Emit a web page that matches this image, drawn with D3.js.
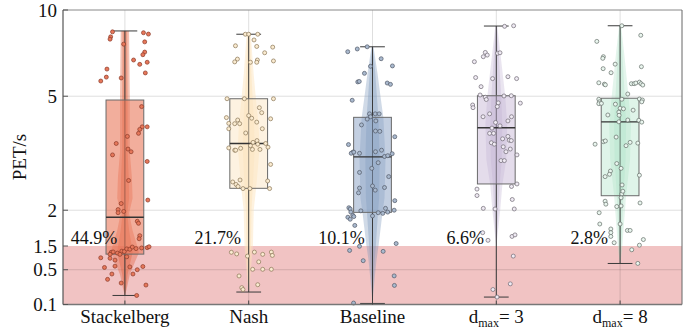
<!DOCTYPE html>
<html><head><meta charset="utf-8">
<script src="https://cdn.jsdelivr.net/npm/d3@7"></script>
<style>
body{margin:0;background:#fff}
svg{display:block}
</style>
</head><body><svg id="c" width="697" height="333"></svg>
<script>
// ---------------- data ----------------
const categories = ["Stackelberg","Nash","Baseline","dmax3","dmax8"];
const categoryLabels = [["Stackelberg"],["Nash"],["Baseline"],["d","max","= 3"],["d","max","= 8"]];
const yTicks = [0.1, 0.5, 1.5, 2, 5, 10];
const threshold = 1.5;
const percentLabels = ["44.9%","21.7%","10.1%","6.6%","2.8%"];

const whiskerHigh = [8.45, 8.23, 7.44, 8.79, 8.81];
const q3          = [4.85, 4.90, 4.22, 5.02, 4.92];
const medians     = [1.89, 3.42, 3.07, 3.88, 4.07];
const q1          = [1.03, 2.385, 1.966, 2.47, 2.247];
const whiskerLow  = [0.152, 0.178, 0.105, 0.141, 0.668];

const stackelbergPET = [8.39,8.06,7.91,8.33,8.24,7.74,7.60,7.13,6.98,6.69,6.57,6.46,6.22,5.83,5.65,5.79,6.03,4.60,3.91,3.91,3.83,3.71,3.62,3.42,3.27,3.20,3.12,2.96,2.54,2.17,2.11,2.01,1.96,1.98,1.83,1.80,1.63,1.59,
  1.12,1.14,1.02,1.08,1.18,1.02,1.16,1.31,1.29,1.43,1.33,1.37,1.39,1.45,0.87,0.85,0.78,0.91,0.555,0.59,0.57,0.50,0.58,0.41,0.41,0.32,0.27,0.246,0.152];
const stackelbergJitter = [-0.10,-0.115,-0.12,0.15,0.19,0.16,-0.01,0.16,0.145,0.07,0.18,0.12,-0.145,-0.15,-0.195,-0.03,0.165,0.135,0.18,0.14,0.12,0.11,0.02,-0.07,0.025,0.05,-0.10,0.18,0.03,0.185,-0.03,-0.055,-0.055,-0.01,0.10,0.11,0.12,0.115,
  -0.11,-0.095,-0.12,-0.06,-0.025,-0.04,-0.005,0.015,0.04,0.06,0.09,0.135,0.18,0.195,-0.195,-0.12,-0.08,0.015,-0.165,-0.08,0.04,0.10,0.145,-0.105,0.065,-0.14,-0.03,0.17,0.095];

const nashPET = [8.23,8.23,8.23,7.86,7.50,7.46,7.42,7.09,6.74,6.59,6.69,6.57,6.57,6.64,4.90,4.90,4.90,4.56,4.38,4.21,4.28,4.19,4.17,4.13,4.02,4.01,4.01,4.06,3.85,3.85,3.72,3.50,3.45,3.40,3.36,3.42,3.32,3.30,3.24,3.24,3.29,3.26,3.26,2.89,2.51,2.46,2.55,2.42,2.38,2.38,2.53,2.38,
  1.12,1.04,0.94,1.13,1.02,1.13,0.97,0.72,0.51,0.51,0.51,0.375,0.25,0.218,0.20];
const nashJitter = [-0.027,0,0.073,0.043,-0.107,0.065,0.194,0.129,-0.091,-0.113,0.07,0.065,0.014,0.2,-0.175,-0.035,0.2,0.086,0.105,-0.18,0,0.024,0.177,-0.089,-0.161,-0.113,-0.073,0.065,-0.161,0.11,-0.024,0.067,0.035,0.073,0.014,0.137,0.156,-0.161,-0.113,-0.105,-0.065,0.03,0.091,0.177,-0.129,-0.102,-0.07,-0.086,-0.046,0.01,0.153,0.169,
  -0.14,-0.097,-0.01,0.046,0.113,0.183,0.191,0.081,0.032,0.113,0.183,-0.078,0.073,-0.056,-0.046];

const baselinePET = [7.44,7.15,7.31,6.76,6.36,6.38,6.01,5.61,5.63,5.56,5.50,4.84,4.34,4.34,4.34,4.24,4.16,4.10,3.97,3.78,3.77,3.61,3.39,3.19,3.16,3.19,3.16,3.20,3.24,3.08,3.10,3.15,2.93,2.71,2.80,2.62,2.39,2.30,2.43,2.35,2.40,2.16,2.04,2.02,1.97,1.99,1.96,1.95,1.97,2.03,2.00,1.89,1.86,1.92,1.90,1.91,1.77,1.53,1.48,1.22,1.17,0.76,0.376,0.242,0.107];
const baselineJitter = [-0.043,-0.2,-0.123,0.07,-0.016,0.161,-0.065,-0.119,-0.107,0.119,0.145,-0.164,-0.024,0.022,0.054,-0.016,-0.043,0.027,-0.089,0.024,0.059,0.18,-0.194,-0.159,-0.172,-0.151,-0.105,0.024,0.073,0.097,0.123,0.159,0.046,-0.105,-0.006,0.131,-0.105,-0.113,0,0.022,0.097,0.18,-0.191,-0.18,-0.175,-0.094,0.046,0.083,0.123,0.105,0.175,-0.199,-0.18,-0.159,-0.151,0,-0.143,0.191,-0.105,-0.185,0.086,-0.075,0.175,0.177,-0.153];

const dmax3PET = [8.77,8.81,7.11,6.87,6.96,6.60,7.06,7.09,5.81,5.76,5.85,5.76,5.40,5.05,4.96,4.87,5.01,5.02,4.66,4.56,4.74,4.60,4.73,4.34,4.24,4.24,4.10,4.05,3.94,3.87,3.71,3.71,3.55,3.62,3.51,3.50,3.44,3.40,3.33,3.27,3.20,3.12,2.98,2.98,2.47,2.42,2.37,2.25,2.18,2.03,2.02,2.02,1.67,1.57,1.62,1.64,0.94,0.26,0.20,0.141];
const dmax3Jitter = [0.067,0.14,-0.089,-0.105,-0.073,-0.177,0.01,0.03,-0.167,-0.03,0.094,0.164,-0.123,-0.131,-0.089,-0.081,0.062,0.121,-0.191,-0.188,0.016,0.008,0.194,-0.054,-0.107,0.123,0.094,-0.006,0.03,-0.035,-0.054,-0.022,0.051,0.094,0.105,0.121,-0.04,-0.016,0.056,0.113,0.078,0.167,0.038,0.065,0.167,0.123,-0.156,-0.156,0.129,-0.105,-0.01,0.145,-0.11,-0.067,0.127,0.151,0.137,0.113,-0.027,0.006];

const dmax8PET = [8.81,8.16,7.77,6.87,6.78,6.34,6.24,6.47,6.04,5.57,5.51,5.48,5.53,5.53,5.56,5.60,5.53,5.47,5.09,4.88,4.78,4.71,4.72,4.88,4.89,4.85,4.78,4.69,4.54,4.52,4.47,4.30,4.40,4.29,4.13,4.07,4.12,4.06,3.40,3.47,3.49,3.60,3.36,3.45,3.43,2.91,2.80,2.74,2.67,2.62,2.65,2.45,2.28,2.33,2.21,2.15,2.10,2.06,2.07,2.12,1.96,1.79,1.72,1.67,1.62,1.79,1.70,1.70,1.54,1.58,1.51,1.26,0.67];
const dmax8Jitter = [0.014,0.167,-0.188,-0.135,-0.14,0.172,-0.137,-0.04,-0.073,-0.172,-0.127,-0.119,0.091,0.113,0.127,0.156,0.169,0.183,0.062,-0.172,-0.167,-0.172,-0.151,0.014,0.156,0.18,0.175,-0.038,0,0.027,0.105,-0.099,-0.01,-0.008,0.062,-0.01,0.151,0.175,-0.202,-0.135,-0.119,-0.032,0.048,0.081,0.143,-0.027,0.008,-0.078,-0.086,-0.121,0.156,0.016,0.014,0.022,0.008,-0.121,-0.115,-0.027,0.008,0.161,-0.169,-0.164,-0.075,-0.075,-0.075,0,0.059,0.081,-0.048,0.188,0.156,0.094,0.143];

// violin density profiles (value, relative density)
const stackelbergViolinV = [8.45,5,3.2,2.6,2.2,1.95,1.7,1.45,1.1,0.7,0.4,0.2,0.152];
const stackelbergViolinD = [0.3,0.35,0.35,0.5,0.55,0.3,0.55,0.9,1,0.7,0.35,0.12,0];
const nashViolinV = [8.23,6,5,4,3.3,2.5,2,1.5,0.8,0.3,0.178];
const nashViolinD = [0.15,0.35,0.5,0.7,0.78,0.57,0.36,0.3,0.22,0.1,0];
const baselineViolinV = [7.44,6,5,4.2,3,2.2,1.95,1.5,0.8,0.3,0.105];
const baselineViolinD = [0.07,0.36,0.57,0.78,0.93,0.86,0.71,0.43,0.29,0.14,0];
const dmax3ViolinV = [8.79,7,5,4,3,2.45,2,1.55,1.5];
const dmax3ViolinD = [0.07,0.3,0.64,0.78,0.71,0.43,0.28,0.04,0];
const dmax8ViolinV = [8.81,7,5,4,3,2.25,1.8,1.2,0.668];
const dmax8ViolinD = [0.07,0.3,0.6,0.78,0.71,0.43,0.28,0.14,0];

const seriesValues = [stackelbergPET, nashPET, baselinePET, dmax3PET, dmax8PET];
const seriesJitter = [stackelbergJitter, nashJitter, baselineJitter, dmax3Jitter, dmax8Jitter];
const violinV = [stackelbergViolinV, nashViolinV, baselineViolinV, dmax3ViolinV, dmax8ViolinV];
const violinD = [stackelbergViolinD, nashViolinD, baselineViolinD, dmax3ViolinD, dmax8ViolinD];

// ---------------- styles ----------------
const FONT = '"Liberation Serif"';
const violinColor = ["rgb(228,100,65)","rgb(252,226,185)","rgb(120,148,186)","rgb(185,168,205)","rgb(165,222,192)"];
const violinAlpha = [0.4,0.45,0.35,0.3,0.3];
const boxColor = ["rgb(234,120,90)","rgb(252,230,195)","rgb(135,160,195)","rgb(195,178,210)","rgb(175,228,200)"];
const boxAlpha = [0.6,0.5,0.5,0.45,0.4];
const ptFill = ["#E6775A","#FAEBD0","#A9B9CE","#EFEAF3","#EAF6EF"];
const ptStroke = ["#8a3a28","#8a7656","#505866","#6e6873","#646f69"];

// ---------------- layout ----------------
const L = 63, R = 682, T = 10, B = 304.5, yThr = 246;
const svg = d3.select("#c");
const x = d3.scaleBand().domain(categories).range([L, R]).padding(0);
const y = d3.scaleLog().domain([0.1, threshold, 10]).range([B, yThr, T]);
const bw = x.bandwidth();
const cx = i => x(categories[i]) + bw / 2;
const widthScale = d3.scaleLinear().domain([0, 1]).range([0, bw * 0.113]);

// threshold region
svg.append("rect").attr("x", L).attr("y", y(threshold)).attr("width", R - L)
  .attr("height", y(0.1) - y(threshold)).attr("fill", "#F1C3C3");

// grid
const grid = svg.append("g").attr("stroke", "#000").attr("stroke-opacity", 0.13).attr("stroke-width", 1);
[0.5, 2, 5].forEach(v => grid.append("line").attr("x1", L).attr("x2", R).attr("y1", y(v)).attr("y2", y(v)));
categories.forEach((c, i) => grid.append("line").attr("x1", cx(i)).attr("x2", cx(i)).attr("y1", T).attr("y2", B));

// violins
categories.forEach((c, i) => {
  const pts = violinV[i].map((v, k) => ({v, d: violinD[i][k]}));
  [1, 0.55].forEach(f => {
    const area = d3.area()
      .y(p => y(p.v))
      .x0(p => cx(i) - widthScale(p.d) * f)
      .x1(p => cx(i) + widthScale(p.d) * f)
      .curve(d3.curveLinear);
    svg.append("path").attr("d", area(pts)).attr("fill", violinColor[i]).attr("fill-opacity", violinAlpha[i]);
  });
});

// whiskers
const boxW = bw * 0.305, capW = bw * 0.2;
categories.forEach((c, i) => {
  const g = svg.append("g").attr("stroke", "#3a3a3a").attr("stroke-width", 1);
  g.append("line").attr("x1", cx(i)).attr("x2", cx(i)).attr("y1", y(whiskerHigh[i])).attr("y2", y(whiskerLow[i]));
  [whiskerHigh[i], whiskerLow[i]].forEach(v =>
    g.append("line").attr("x1", cx(i) - capW / 2).attr("x2", cx(i) + capW / 2).attr("y1", y(v)).attr("y2", y(v)));
});

// boxes
categories.forEach((c, i) => {
  svg.append("rect").attr("x", cx(i) - boxW / 2).attr("width", boxW)
    .attr("y", y(q3[i])).attr("height", y(q1[i]) - y(q3[i]))
    .attr("fill", boxColor[i]).attr("fill-opacity", boxAlpha[i])
    .attr("stroke", "#6a6a6a").attr("stroke-width", 1);
  svg.append("line").attr("x1", cx(i) - boxW / 2).attr("x2", cx(i) + boxW / 2)
    .attr("y1", y(medians[i])).attr("y2", y(medians[i]))
    .attr("stroke", "#333").attr("stroke-width", 1.4);
});

// points
categories.forEach((c, i) => {
  svg.append("g").selectAll("circle").data(seriesValues[i]).join("circle")
    .attr("cx", (v, k) => cx(i) + seriesJitter[i][k] * bw)
    .attr("cy", v => y(v))
    .attr("r", 2.0)
    .attr("fill", ptFill[i]).attr("stroke", ptStroke[i]).attr("stroke-width", 0.7);
});

// percent labels
categories.forEach((c, i) => {
  svg.append("text").attr("x", cx(i) - bw * 0.25).attr("y", yThr - 2)
    .style("font-family", FONT).attr("fill", "#111")
    .attr("text-anchor", "middle").attr("font-size", 18).text(percentLabels[i]);
});

// frame
svg.append("line").attr("x1", L).attr("x2", R).attr("y1", T).attr("y2", T).attr("stroke", "#888");
svg.append("line").attr("x1", R).attr("x2", R).attr("y1", T).attr("y2", B).attr("stroke", "#666");
svg.append("line").attr("x1", L).attr("x2", R).attr("y1", B).attr("y2", B).attr("stroke", "#777").attr("stroke-width", 1.5);
svg.append("line").attr("x1", L).attr("x2", L).attr("y1", T).attr("y2", B).attr("stroke", "#555").attr("stroke-width", 1.2);

// y axis ticks + labels
yTicks.forEach(v => {
  svg.append("line").attr("x1", L).attr("x2", L + 5).attr("y1", y(v)).attr("y2", y(v)).attr("stroke", "#555");
  svg.append("text").attr("x", L - 6).attr("y", y(v)).attr("dy", "0.35em")
    .style("font-family", FONT).attr("fill", "#111")
    .attr("text-anchor", "end").attr("font-size", 19).text(v);
});
// x ticks + labels
categories.forEach((c, i) => {
  svg.append("line").attr("x1", cx(i)).attr("x2", cx(i)).attr("y1", B).attr("y2", B - 4).attr("stroke", "#444");
  const t = svg.append("text").attr("x", cx(i)).attr("y", 323).attr("text-anchor", "middle")
    .style("font-family", FONT).attr("fill", "#111").attr("font-size", 19);
  const parts = categoryLabels[i];
  t.append("tspan").text(parts[0]);
  if (parts.length > 1) {
    t.append("tspan").attr("font-size", 12).attr("dy", 4).text(parts[1]);
    t.append("tspan").attr("dy", -4).text(parts[2]);
  }
});
// y label
svg.append("text").attr("transform", "translate(26,157) rotate(-90)")
  .style("font-family", FONT).attr("fill", "#111")
  .attr("text-anchor", "middle").attr("font-size", 19).text("PET/s");
</script>
</body></html>
